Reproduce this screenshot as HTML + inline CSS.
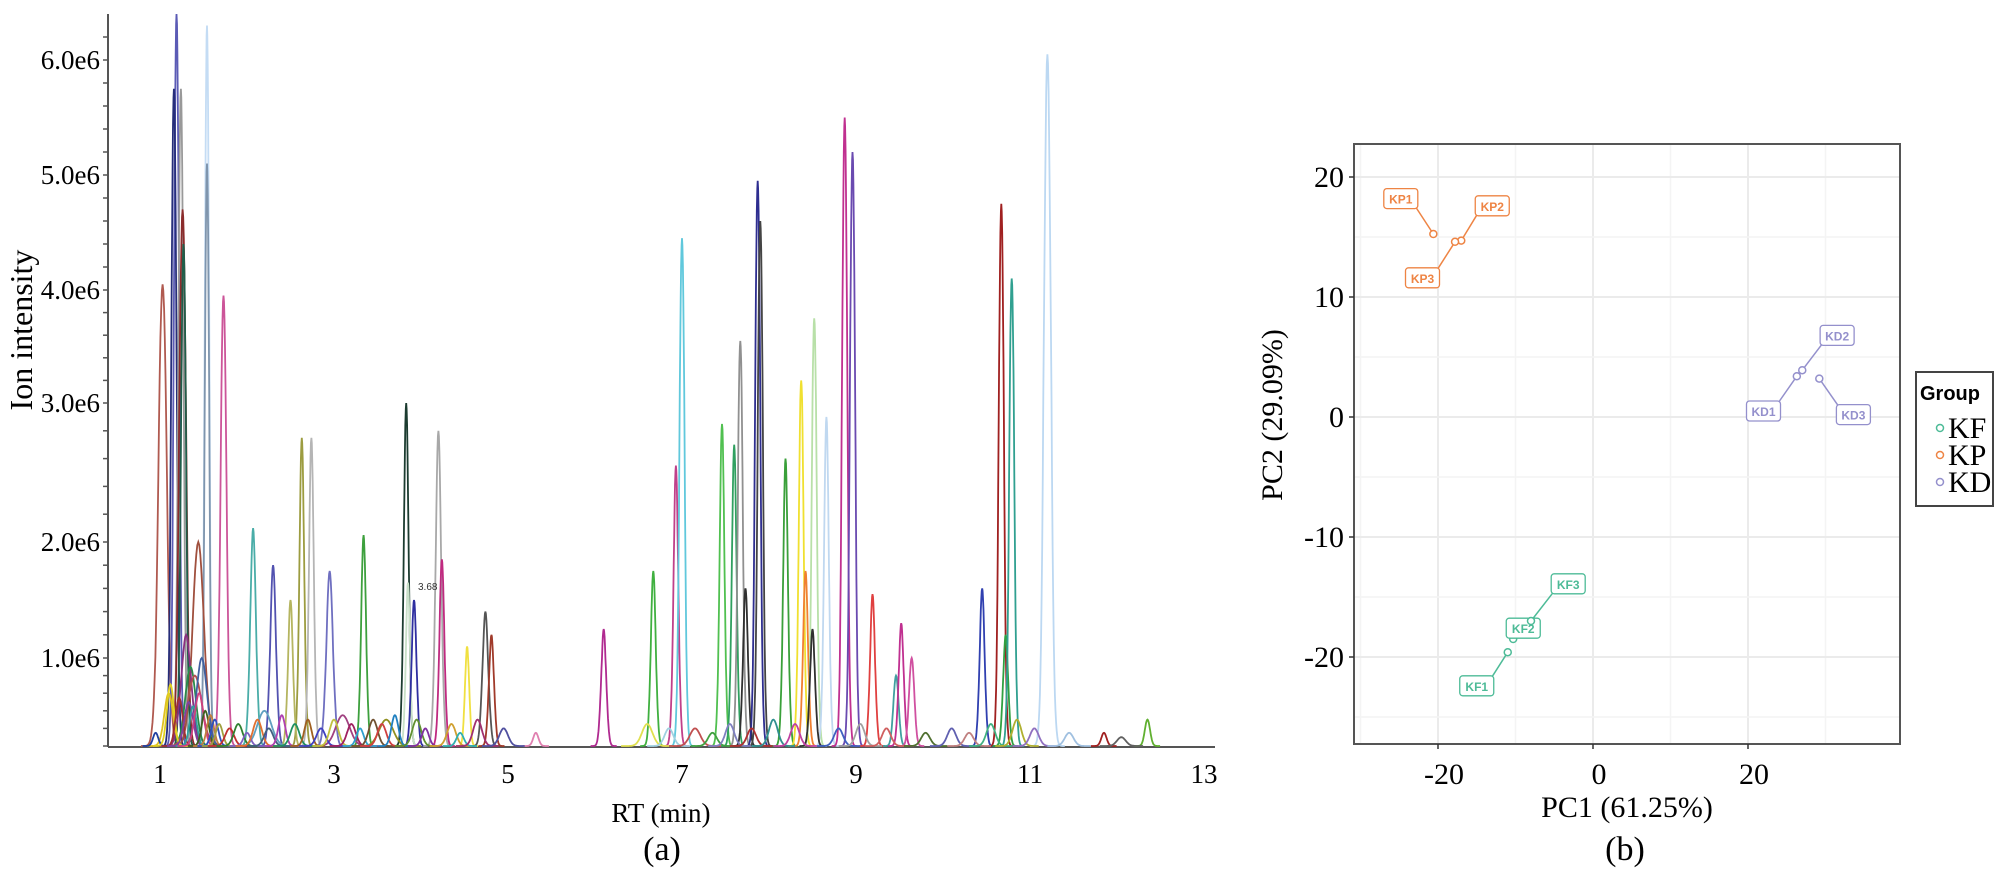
<!DOCTYPE html>
<html><head><meta charset="utf-8"><style>
html,body{margin:0;padding:0;background:#fff;}
svg{display:block;}
</style></head><body>
<svg id="fig" width="2000" height="896" viewBox="0 0 2000 896" xmlns="http://www.w3.org/2000/svg">
<g id="chromA"></g>
<g id="pcaB"></g>
<text x="662" y="860" font-family="Liberation Serif, serif" font-size="34" text-anchor="middle">(a)</text>
<text x="1625" y="860" font-family="Liberation Serif, serif" font-size="34" text-anchor="middle">(b)</text>
</svg>
<script>
// ---------- Chromatogram data ----------
const peakRT =   [1.03,1.19,1.16,1.24,1.26,1.27,1.54,1.54,1.73,1.44,2.07,2.30,2.63,2.74,2.50,2.95,3.34,3.83,3.85,3.92,4.20,4.24,4.53,4.74,4.81,5.32,6.10,6.67,6.93,7.00,7.46,7.60,7.67,7.73,7.87,7.90,8.19,8.37,8.42,8.52,8.66,8.50,8.87,8.96,9.19,9.46,9.52,9.64,10.45,10.67,10.72,10.79,11.20,12.35,11.85,1.30,1.35,1.10,1.40,1.48,2.20,3.10,3.60,
  0.95,1.12,1.22,1.33,1.38,1.45,1.52,1.58,1.63,1.68,1.80,1.90,2.00,2.12,2.25,2.40,2.55,2.70,2.85,3.00,3.20,3.30,3.45,3.55,3.70,3.95,4.05,4.35,4.45,4.65,4.95,6.60,6.85,7.15,7.35,7.55,7.80,8.05,8.30,8.80,9.05,9.35,9.80,10.10,10.30,10.55,10.85,11.05,11.45,12.05];
const peakH =    [4.05,6.40,5.75,5.75,4.70,4.40,6.30,5.10,3.95,2.00,2.10,1.80,2.75,2.75,1.50,1.75,2.05,3.00,1.65,1.50,2.80,1.85,1.10,1.40,1.20,0.15,1.25,1.75,2.55,4.45,2.85,2.70,3.55,1.60,4.95,4.60,2.60,3.20,1.75,3.75,2.90,1.25,5.50,5.20,1.55,0.80,1.30,1.00,1.60,4.75,1.20,4.10,6.05,0.30,0.15,1.20,0.90,0.60,0.80,1.00,0.40,0.35,0.30,
  0.15,0.70,0.55,0.50,0.45,0.60,0.40,0.35,0.30,0.25,0.20,0.25,0.15,0.30,0.20,0.35,0.25,0.30,0.20,0.30,0.25,0.20,0.30,0.25,0.35,0.30,0.20,0.25,0.15,0.30,0.20,0.25,0.20,0.20,0.15,0.25,0.20,0.30,0.25,0.20,0.25,0.20,0.15,0.20,0.15,0.25,0.30,0.20,0.15,0.10];
const peakW =    [0.05,0.03,0.03,0.03,0.04,0.03,0.025,0.025,0.035,0.07,0.035,0.035,0.03,0.03,0.03,0.04,0.03,0.03,0.025,0.03,0.035,0.03,0.025,0.035,0.03,0.03,0.03,0.03,0.03,0.03,0.03,0.03,0.03,0.03,0.03,0.03,0.03,0.03,0.03,0.03,0.03,0.03,0.03,0.03,0.03,0.03,0.03,0.03,0.03,0.03,0.03,0.03,0.04,0.03,0.03,0.06,0.06,0.05,0.08,0.06,0.08,0.08,0.08,
  0.03,0.04,0.04,0.05,0.04,0.05,0.04,0.04,0.04,0.04,0.05,0.05,0.04,0.05,0.05,0.04,0.05,0.04,0.05,0.05,0.05,0.04,0.05,0.05,0.04,0.05,0.04,0.05,0.04,0.05,0.05,0.06,0.05,0.06,0.05,0.05,0.05,0.05,0.05,0.05,0.05,0.05,0.05,0.05,0.05,0.05,0.05,0.05,0.05,0.05];
const peakColor = ["#b05a50","#5b5bb5","#262e7a","#999999","#8b2c2c","#1f5e4a","#c4dcf4","#7f95ad","#cc5599","#a0503e","#4aada8","#5252b0","#9c9c40","#b5b5b5","#b5b560","#6f6fc0","#3da03d","#1c3c30","#c8e0c8","#2f2fa0","#a8a8a8","#c02a80","#f0e040","#555555","#a03a2a","#e080b0","#b02a90","#40b040","#c0408a","#60c8dc","#50c050","#30a060","#909090","#303030","#2e2e90","#444444","#3aa03a","#f0e030","#f08030","#b8e0a8","#c0d8f0","#303030","#c03090","#6a4ab0","#e04040","#40a0a0","#c03090","#d050a0","#3040b0","#a02020","#30a040","#30a090","#bcd8f2","#60b030","#a02020","#8a3080","#2a8a4a","#e0c020","#b05050","#4060a0","#60a0c0","#a04080","#909020",
  "#2040a0","#e0d020","#a03030","#8040a0","#30a0a0","#d04080","#406020","#c08040","#3050c0","#a0a040","#c03030","#308030","#8060c0","#e07030","#406080","#b040b0","#209060","#a06020","#4040c0","#c0c040","#a02060","#30a0d0","#705030","#d04040","#2080c0","#609030","#8030a0","#d0a030","#30b0b0","#a03070","#5050a0","#e0e050","#a0d0e0","#c05050","#40a040","#8080c0","#b03030","#309090","#c040a0","#4060c0","#a0a0a0","#d06060","#507030","#6060b0","#c08080","#40b080","#b0b030","#9070c0","#a0c0e0","#606060"];
const yTickVals = [0,1,2,3,4,5,6];
const yTickLabels = ["","1.0e6","2.0e6","3.0e6","4.0e6","5.0e6","6.0e6"];
const yTickPix = [746,658,542,403,290,175,60];
const xTickVals = [1,3,5,7,9,11,13];

const NS="http://www.w3.org/2000/svg";
function mk(tag,attrs,parent){const e=document.createElementNS(NS,tag);for(const k in attrs)e.setAttribute(k,attrs[k]);parent.appendChild(e);return e;}
const A=document.getElementById('chromA');
const xA=t=>160+(t-1)*87;
function yA(v){
  if(v<=0) return yTickPix[0];
  for(let i=1;i<yTickVals.length;i++){ if(v<=yTickVals[i]){const f=(v-yTickVals[i-1])/(yTickVals[i]-yTickVals[i-1]);return yTickPix[i-1]+f*(yTickPix[i]-yTickPix[i-1]);} }
  const n=yTickVals.length-1; return yTickPix[n]+(v-yTickVals[n])*(yTickPix[n]-yTickPix[n-1]);
}
let ax=mk('line',{x1:108,y1:14,x2:108,y2:747,stroke:'#555','stroke-width':2},A);

let bx=mk('line',{x1:108,y1:747,x2:1215,y2:747,stroke:'#555','stroke-width':2},A);

for(let i=0;i<yTickVals.length;i++){
  if(yTickLabels[i]){
    const t=mk('text',{x:100,y:yA(yTickVals[i])+9,'font-family':'Liberation Serif, serif','font-size':27,'text-anchor':'end'},A);
    t.textContent=yTickLabels[i];
    
  }
}
for(let v=0;v<=6.6;v+=0.2){const y=yA(v);if(y<14)break;const tk=mk('line',{x1:103,y1:y,x2:108,y2:y,stroke:'#555','stroke-width':1.5},A);}
for(const v of xTickVals){
  const t=mk('text',{x:xA(v),y:783,'font-family':'Liberation Serif, serif','font-size':27,'text-anchor':'middle'},A);
  t.textContent=v;
  
}
let yl=mk('text',{x:0,y:0,'font-family':'Liberation Serif, serif','font-size':32,'text-anchor':'middle',transform:'translate(32,330) rotate(-90)'},A);
yl.textContent='Ion intensity';
let xl=mk('text',{x:661,y:822,'font-family':'Liberation Serif, serif','font-size':27,'text-anchor':'middle'},A);
xl.textContent='RT (min)';
for(let i=0;i<peakRT.length;i++){
  const mu=peakRT[i],h=peakH[i],s=peakW[i];let pts=[];
  for(let t=mu-5*s;t<=mu+5*s;t+=s/6){const v=h*Math.exp(-0.5*((t-mu)/s)**2);pts.push(xA(t).toFixed(1)+','+yA(v).toFixed(1));}
  const p=mk('polyline',{points:pts.join(' '),fill:'none',stroke:peakColor[i],'stroke-width':1.8},A);
  
  
}
let lbl=mk('text',{x:418,y:590,'font-family':'Liberation Sans, sans-serif','font-size':10,fill:'#333'},A);
lbl.textContent='3.68';

// ---------- PCA data ----------
const sampleNames=["KF1","KF2","KF3","KP1","KP2","KP3","KD1","KD2","KD3"];
const pc1=[-11.0,-10.3,-8.0,-20.6,-17.0,-17.8,26.3,27.0,29.2];
const pc2=[-19.6,-18.5,-17.0,15.25,14.7,14.6,3.4,3.9,3.2];
const labelPc1=[-15.0,-9.0,-3.2,-24.8,-13.0,-22.0,22.0,31.5,33.6];
const labelPc2=[-22.4,-17.6,-13.9,18.2,17.6,11.6,0.5,6.8,0.2];
const groupOf=["KF","KF","KF","KP","KP","KP","KD","KD","KD"];
const groups=["KF","KP","KD"];
const groupColor={KF:"#4dbb97",KP:"#ee8444",KD:"#9490cc"};
const pcXTicks=[-20,0,20];
const pcYTicks=[-20,-10,0,10,20];

const B=document.getElementById('pcaB');
const xB=v=>1593+7.75*v, yB=v=>417-12*v;
const L=1354,R=1900,T=144,Bt=744;
for(let v=-30;v<=40;v+=10){const x=xB(v);if(x<=L||x>=R)continue;const g=mk('line',{x1:x,y1:T,x2:x,y2:Bt,stroke:(v%20===0)?'#ebebeb':'#f4f4f4','stroke-width':(v%20===0)?2:1.5},B);}
for(let v=-25;v<=20;v+=5){const y=yB(v);const g=mk('line',{x1:L,y1:y,x2:R,y2:y,stroke:(v%10===0)?'#ebebeb':'#f4f4f4','stroke-width':(v%10===0)?2:1.5},B);}
let fr=mk('rect',{x:L,y:T,width:R-L,height:Bt-T,fill:'none',stroke:'#555','stroke-width':2},B);

for(const v of pcXTicks){
  const tk=mk('line',{x1:xB(v),y1:Bt,x2:xB(v),y2:Bt+5,stroke:'#333','stroke-width':1.5},B);
  const t=mk('text',{x:xB(v)+6,y:Bt+40,'font-family':'Liberation Serif, serif','font-size':30,'text-anchor':'middle'},B);t.textContent=v;
}
for(const v of pcYTicks){
  const tk=mk('line',{x1:L-5,y1:yB(v),x2:L,y2:yB(v),stroke:'#333','stroke-width':1.5},B);
  const t=mk('text',{x:L-10,y:yB(v)+10,'font-family':'Liberation Serif, serif','font-size':30,'text-anchor':'end'},B);t.textContent=v;
}
let px=mk('text',{x:1627,y:817,'font-family':'Liberation Serif, serif','font-size':30,'text-anchor':'middle'},B);
px.textContent='PC1 (61.25%)';
let py=mk('text',{x:0,y:0,'font-family':'Liberation Serif, serif','font-size':30,'text-anchor':'middle',transform:'translate(1282,415) rotate(-90)'},B);
py.textContent='PC2 (29.09%)';
for(let i=0;i<sampleNames.length;i++){
  const c=groupColor[groupOf[i]];
  const x0=xB(pc1[i]),y0=yB(pc2[i]),lx=xB(labelPc1[i]),ly=yB(labelPc2[i]);
  const ln=mk('line',{x1:x0,y1:y0,x2:lx+(x0>lx?17:-17)*0.9,y2:ly+(y0>ly?9:-9),stroke:c,'stroke-width':1.5},B);
  
  const pt=mk('circle',{cx:x0,cy:y0,r:3.5,fill:'#fff',stroke:c,'stroke-width':1.5},B);
  
  const bxr=mk('rect',{x:lx-17,y:ly-10,width:34,height:20,rx:3,fill:'#fff',stroke:c,'stroke-width':1.3},B);
  
  const t=mk('text',{x:lx,y:ly+5,'font-family':'Liberation Sans, sans-serif','font-size':12,'font-weight':'bold',fill:c,'text-anchor':'middle'},B);
  t.textContent=sampleNames[i];
}
let lg=mk('rect',{x:1916,y:372,width:77,height:134,fill:'#fff',stroke:'#444','stroke-width':2},B);

let lt=mk('text',{x:1920,y:400,'font-family':'Liberation Sans, sans-serif','font-size':20,'font-weight':'bold'},B);
lt.textContent='Group';
groups.forEach((g,i)=>{
  const y=428+i*27;
  const c=mk('circle',{cx:1940,cy:y,r:3.5,fill:'#fff',stroke:groupColor[g],'stroke-width':1.5},B);
  
  const t=mk('text',{x:1948,y:y+10,'font-family':'Liberation Serif, serif','font-size':30},B);
  t.textContent=g;
});
</script>
</body></html>
